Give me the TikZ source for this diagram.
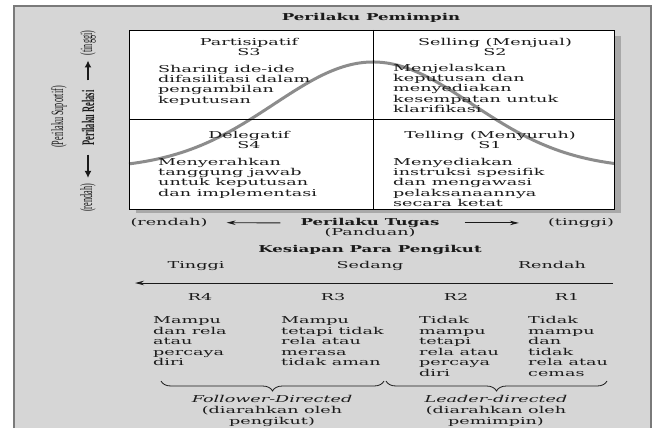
\documentclass[tikz,border=0pt]{standalone}
\usepackage{fontspec}
\setmainfont{DejaVu Serif}
\newfontfamily\libserif{Liberation Serif}
\usetikzlibrary{arrows.meta,decorations.pathreplacing}
\newcommand{\Wd}[1]{\scalebox{1.85}[1]{#1}}
\newcommand{\Bd}[1]{\scalebox{1.75}[1]{\bfseries #1}}
\newcommand{\Vt}[1]{\scalebox{1}[2.1]{#1}}
\newcommand{\Lc}[1]{\begin{tabular}[t]{@{}l@{}}#1\end{tabular}}
\newcommand{\Cc}[1]{\begin{tabular}[t]{@{}c@{}}#1\end{tabular}}
\definecolor{panelc}{HTML}{D6D6D6}
\definecolor{shadowc}{HTML}{A8A8A8}
\definecolor{borderc}{HTML}{7A7A7A}
\definecolor{curvec}{HTML}{8C8C8C}
\definecolor{textc}{HTML}{1A1A1A}
\tikzset{
  txt/.style={inner sep=0pt, text=textc, font=\fontsize{9.5}{10}\selectfont},
  coltxt/.style={inner sep=0pt, text=textc, font=\fontsize{9.5}{10.5}\selectfont, anchor=base west},
  dirtxt/.style={inner sep=0pt, text=textc, font=\fontsize{9.5}{11}\selectfont, anchor=base},
  vtxt/.style={inner sep=0pt, text=textc, rotate=90, font=\libserif\fontsize{8.2}{9}\selectfont},
  harrow/.style={draw=textc, line width=0.9pt, -{Stealth[length=9pt,width=4.5pt]}},
  varrow/.style={draw=textc, line width=1.4pt, -{Latex[length=7pt,width=7pt]}},
  bracestyle/.style={draw=textc, line width=0.8pt, decorate, decoration={brace, mirror, amplitude=10pt}}
}
\begin{document}
\begin{tikzpicture}[x=1pt,y=-1pt]
\useasboundingbox (0,0) rectangle (655,428);
\fill[white] (0,0) rectangle (655,428);
% panel
\fill[panelc] (14,6) rectangle (651,428);
\draw[borderc, line width=1.2pt] (14,428) -- (14,6) -- (651,6) -- (651,428);
% box with shadow
\fill[shadowc] (136,36) rectangle (621,213);
\fill[white] (129,30) rectangle (614,209);
% curve
\draw[curvec, line width=3pt] plot[domain=129:614, samples=80, smooth] (\x, {169-107*exp(-((\x-373)/99)^2/2)});
\draw[black, line width=0.9pt] (129,30) rectangle (614,209);
\draw[black, line width=0.9pt] (373,30) -- (373,209);
\draw[black, line width=0.9pt] (129,119) -- (614,119);
% title
\node[txt, anchor=base] (title) at (371,20.5) {\Bd{Perilaku Pemimpin}};
% quadrants
\node[txt, anchor=base] (s3h) at (249,45.5) {\Wd{\Cc{Partisipatif\\S3}}};
\node[txt, anchor=base west] (s3b) at (158,72.5) {\Wd{\Lc{Sharing ide-ide\\difasilitasi dalam\\pengambilan\\keputusan}}};
\node[txt, anchor=base] (s2h) at (495,45.5) {\Wd{\Cc{Selling (Menjual)\\S2}}};
\node[txt, anchor=base west] (s2b) at (393,71.5) {\Wd{\Lc{Menjelaskan\\keputusan dan\\menyediakan\\kesempatan untuk\\klarifikasi}}};
\node[txt, anchor=base] (s4h) at (249,138.5) {\Wd{\Cc{Delegatif\\S4}}};
\node[txt, anchor=base west] (s4b) at (158,165.5) {\Wd{\Lc{Menyerahkan\\tanggung jawab\\untuk keputusan\\dan implementasi}}};
\node[txt, anchor=base] (s1h) at (490,138.5) {\Wd{\Cc{Telling (Menyuruh)\\S1}}};
\node[txt, anchor=base west] (s1b) at (393,165.5) {\Wd{\Lc{Menyediakan\\instruksi spesifik\\dan mengawasi\\pelaksanaannya\\secara ketat}}};
% vertical axis labels
\node[vtxt] (suportif) at (59,117) {\Vt{(Perilaku Suportif)}};
\node[vtxt, font=\libserif\bfseries\fontsize{8.4}{9}\selectfont] (relasi) at (88,118) {\Vt{Perilaku Relasi}};
\node[vtxt] (tinggiL) at (88,43) {\Vt{(tinggi)}};
\node[vtxt] (rendahL) at (88,198) {\Vt{(rendah)}};
\draw[varrow, shorten <=10pt, shorten >=5pt] (relasi.east) -- (tinggiL.west);
\draw[varrow, shorten <=9pt, shorten >=6pt] (relasi.west) -- (rendahL.east);
% horizontal axis
\node[txt, anchor=base] (rendahB) at (169,225.5) {\Wd{(rendah)}};
\node[txt, anchor=base] (tugas) at (370,225.5) {\Bd{Perilaku Tugas}};
\node[txt, anchor=base] (panduan) at (370,235.5) {\Wd{(Panduan)}};
\node[txt, anchor=base] (tinggiB) at (581,225.5) {\Wd{(tinggi)}};
\draw[harrow, shorten <=20pt, shorten >=19pt] (tugas.west) -- (rendahB.east);
\draw[harrow, shorten <=25pt, shorten >=29pt] (tugas.east) -- (tinggiB.west);
% readiness
\node[txt, anchor=base] (kesiapan) at (370,252.5) {\Bd{Kesiapan Para Pengikut}};
\node[txt, anchor=base] (tinggiR) at (196,268.5) {\Wd{Tinggi}};
\node[txt, anchor=base] (sedang) at (370,268.5) {\Wd{Sedang}};
\node[txt, anchor=base] (rendahR) at (552,268.5) {\Wd{Rendah}};
\coordinate (laR) at (613,283);
\coordinate (laL) at (135,283);
\draw[harrow] (laR) -- (laL);
\node[txt, anchor=base] (r4) at (200,300.5) {\Wd{R4}};
\node[txt, anchor=base] (r3) at (333,300.5) {\Wd{R3}};
\node[txt, anchor=base] (r2) at (456,300.5) {\Wd{R2}};
\node[txt, anchor=base] (r1) at (567,300.5) {\Wd{R1}};
\node[coltxt] (c4) at (153,323.5) {\Wd{\Lc{Mampu\\dan rela\\atau\\percaya\\diri}}};
\node[coltxt] (c3) at (281,323.5) {\Wd{\Lc{Mampu\\tetapi tidak\\rela atau\\merasa\\tidak aman}}};
\node[coltxt] (c2) at (419,323.5) {\Wd{\Lc{Tidak\\mampu\\tetapi\\rela atau\\percaya\\diri}}};
\node[coltxt] (c1) at (528,323.5) {\Wd{\Lc{Tidak\\mampu\\dan\\tidak\\rela atau\\cemas}}};
% braces
\coordinate (b1a) at (161,381);
\coordinate (b1b) at (384,381);
\coordinate (b2a) at (386,381);
\coordinate (b2b) at (607,381);
\draw[bracestyle] (b1a) -- (b1b);
\draw[bracestyle] (b2a) -- (b2b);
\node[dirtxt] (follower) at (272,402) {\Wd{\Cc{\itshape Follower-Directed\\(diarahkan oleh\\pengikut)}}};
\node[dirtxt] (leader) at (496,402) {\Wd{\Cc{\itshape Leader-directed\\(diarahkan oleh\\pemimpin)}}};
\end{tikzpicture}
\end{document}
